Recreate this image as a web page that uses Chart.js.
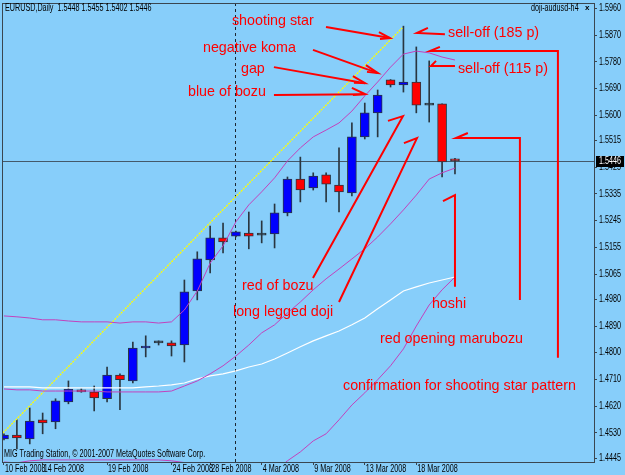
<!DOCTYPE html>
<html>
<head>
<meta charset="utf-8">
<script src="https://cdn.jsdelivr.net/npm/chart.js@4.4.1/dist/chart.umd.min.js"></script>
<style>
    html, body { margin: 0; padding: 0; background: #87cefa; }
</style>
</head>
<body>
<canvas id="chart" width="625" height="475"></canvas>
<script>
// EURUSD daily candles (one per trading session, index 0..35)
const opens  = [1.4510, 1.4523, 1.4510, 1.4574, 1.4567, 1.4634, 1.4675, 1.4668, 1.4645, 1.4725, 1.4705, 1.4816,
                1.4833, 1.4833, 1.4826, 1.5008, 1.5113, 1.5187, 1.5193, 1.5203, 1.5196, 1.5200, 1.5271, 1.5385,
                1.5355, 1.5399, 1.5365, 1.5338, 1.5527, 1.5608, 1.5719, 1.5702, 1.5712, 1.5634, 1.5638, 1.5448];
const highs  = [1.4527, 1.4574, 1.4614, 1.4597, 1.4645, 1.4705, 1.4679, 1.4688, 1.4752, 1.4729, 1.4836, 1.4857,
                1.4840, 1.4840, 1.5045, 1.5140, 1.5227, 1.5237, 1.5210, 1.5274, 1.5244, 1.5301, 1.5392, 1.5459,
                1.5406, 1.5406, 1.5490, 1.5574, 1.5641, 1.5685, 1.5720, 1.5900, 1.5830, 1.5783, 1.5638, 1.5455];
const lows   = [1.4506, 1.4476, 1.4493, 1.4527, 1.4544, 1.4628, 1.4667, 1.4604, 1.4634, 1.4608, 1.4698, 1.4786,
                1.4826, 1.4789, 1.4769, 1.4978, 1.5069, 1.5136, 1.5190, 1.5150, 1.5170, 1.5153, 1.5261, 1.5308,
                1.5348, 1.5308, 1.5274, 1.5328, 1.5520, 1.5527, 1.5695, 1.5678, 1.5608, 1.5577, 1.5392, 1.5402];
const closes = [1.4523, 1.4513, 1.4570, 1.4564, 1.4638, 1.4678, 1.4668, 1.4648, 1.4725, 1.4709, 1.4816, 1.4820,
                1.4833, 1.4823, 1.5005, 1.5116, 1.5187, 1.5173, 1.5207, 1.5193, 1.5196, 1.5271, 1.5385, 1.5348,
                1.5395, 1.5368, 1.5342, 1.5527, 1.5608, 1.5668, 1.5702, 1.5712, 1.5634, 1.5634, 1.5443, 1.5446];

// indicators
const upperBand  = [1.4924, 1.4921, 1.4917, 1.4911, 1.4911, 1.4907, 1.4904, 1.4904, 1.4904, 1.4900, 1.4904, 1.4904,
                    1.4900, 1.4904, 1.4944, 1.5008, 1.5102, 1.5160, 1.5241, 1.5298, 1.5342, 1.5389, 1.5446, 1.5490,
                    1.5527, 1.5550, 1.5574, 1.5614, 1.5665, 1.5712, 1.5762, 1.5806, 1.5816, 1.5810, 1.5796, 1.5786];
const middleBand = [1.4678, 1.4675, 1.4675, 1.4671, 1.4671, 1.4671, 1.4671, 1.4671, 1.4668, 1.4668, 1.4668, 1.4668,
                    1.4668, 1.4671, 1.4688, 1.4705, 1.4729, 1.4756, 1.4789, 1.4826, 1.4867, 1.4894, 1.4934, 1.4971,
                    1.5012, 1.5049, 1.5082, 1.5116, 1.5150, 1.5190, 1.5234, 1.5281, 1.5331, 1.5385, 1.5406, 1.5422];
const lowerBand  = [1.4432, 1.4429, 1.4436, 1.4439, 1.4439, 1.4439, 1.4439, 1.4439, 1.4439, 1.4439, 1.4439, 1.4439,
                    1.4439, 1.4436, 1.4430, 1.4405, 1.4360, 1.4352, 1.4340, 1.4355, 1.4390, 1.4400, 1.4436, 1.4466,
                    1.4503, 1.4527, 1.4574, 1.4624, 1.4665, 1.4709, 1.4756, 1.4813, 1.4890, 1.4961, 1.5012, 1.5055];
const slowMA     = [1.4685, 1.4685, 1.4685, 1.4682, 1.4682, 1.4682, 1.4682, 1.4682, 1.4682, 1.4682, 1.4682, 1.4685,
                    1.4688, 1.4692, 1.4698, 1.4712, 1.4722, 1.4729, 1.4739, 1.4752, 1.4762, 1.4779, 1.4799, 1.4820,
                    1.4840, 1.4857, 1.4873, 1.4894, 1.4917, 1.4948, 1.4978, 1.5008, 1.5022, 1.5035, 1.5045, 1.5055];

// yellow trendline
const trendX = [-0.08, 30.9];
const trendY = [1.4530, 1.5894];

// axes
const yTicks = [1.5960, 1.5870, 1.5780, 1.5690, 1.5600, 1.5515, 1.5425, 1.5335, 1.5245, 1.5155, 1.5065,
                1.4980, 1.4890, 1.4800, 1.4710, 1.4620, 1.4530, 1.4445];
const dateTickIdx  = [0, 3, 8, 13, 16, 20, 24, 28, 32];
const dateTickText = ['10 Feb 2008', '14 Feb 2008', '19 Feb 2008', '24 Feb 2008', '28 Feb 2008',
                      '4 Mar 2008', '9 Mar 2008', '13 Mar 2008', '18 Mar 2008'];
const lastPrice = 1.5446;
const separatorIdx = 17.95;

// text notes (candle index, price)
const noteText  = ['shooting star', 'negative koma', 'gap', 'blue of bozu', 'sell-off (185 p)', 'sell-off (115 p)',
                   'red of bozu', 'long legged doji', 'hoshi', 'red opening marubozu',
                   'confirmation for shooting star pattern'];
const noteIdx   = [17.69, 15.44, 18.39, 14.28, 34.46, 35.23, 18.47, 17.77, 33.21, 29.18, 26.31];
const notePrice = [1.5917, 1.5826, 1.5756, 1.5678, 1.5877, 1.5756, 1.5025, 1.4937, 1.4964, 1.4847, 1.4688];

// red arrows drawn on the chart (candle index, price)
const arrowPaths = [
    [[24.99, 1.5897], [29.96, 1.5860]], [[29.10, 1.5880], [29.96, 1.5860], [29.18, 1.5857]],
    [[23.98, 1.5820], [29.02, 1.5742]], [[28.09, 1.5769], [29.02, 1.5742], [28.17, 1.5746]],
    [[20.95, 1.5762], [28.02, 1.5708]], [[27.08, 1.5732], [28.02, 1.5708], [27.16, 1.5709]],
    [[20.95, 1.5668], [28.02, 1.5671]], [[27.00, 1.5692], [28.02, 1.5671], [27.08, 1.5668]],
    [[34.22, 1.5873], [32.05, 1.5877], [32.90, 1.5894]],
    [[35.00, 1.5766], [33.14, 1.5766], [33.53, 1.5783]],
    [[33.83, 1.5830], [33.06, 1.5816], [42.99, 1.5816], [42.99, 1.4783]],
    [[36.00, 1.5540], [35.08, 1.5523], [40.04, 1.5523], [40.04, 1.4978]],
    [[34.07, 1.5311], [35.00, 1.5331], [35.00, 1.5022]],
    [[23.98, 1.5052], [30.96, 1.5597], [29.80, 1.5581]],
    [[26.00, 1.4971], [32.05, 1.5523], [31.04, 1.5506]]
];

const SMALL_FONT = '"Liberation Sans", Arial, sans-serif';
const NOTE_FONT = '14.3px "Liberation Sans", Arial, sans-serif';
const EDGE = '#2a3640';

const idx = opens.map((_, i) => i);
const bodyColors = idx.map(i => closes[i] > opens[i] ? '#0000ff' : (closes[i] < opens[i] ? '#ff0000' : EDGE));

function lineSet(values, color, width) {
    return {
        type: 'line',
        data: values.map((v, i) => ({ x: i, y: v })),
        borderColor: color,
        borderWidth: width,
        pointRadius: 0,
        tension: 0,
        order: 0
    };
}

// terminal-style narrow text (the MT4 font is narrower than Arial)
function smallText(ctx, text, x, y, color) {
    ctx.save();
    ctx.translate(x, y);
    ctx.scale(0.72, 1);
    ctx.font = '10px ' + SMALL_FONT;
    ctx.fillStyle = color || '#000';
    ctx.textBaseline = 'middle';
    ctx.fillText(text, 0, 0);
    ctx.restore();
}

const overlay = {
    id: 'overlay',
    beforeDraw(chart) {
        const ctx = chart.ctx;
        ctx.save();
        ctx.fillStyle = '#87cefa';
        ctx.fillRect(0, 0, chart.width, chart.height);
        ctx.restore();
    },
    beforeDatasetsDraw(chart) {
        const { ctx, chartArea: a, scales: { x, y } } = chart;
        ctx.save();
        ctx.lineWidth = 1;
        ctx.strokeStyle = '#1c2630';
        ctx.setLineDash([3, 3]);
        const sx = Math.round(x.getPixelForValue(separatorIdx)) + 0.5;
        ctx.beginPath(); ctx.moveTo(sx, a.top); ctx.lineTo(sx, a.bottom); ctx.stroke();
        ctx.setLineDash([]);
        ctx.strokeStyle = '#44596a';
        const py = Math.round(y.getPixelForValue(lastPrice)) + 0.5;
        ctx.beginPath(); ctx.moveTo(a.left, py); ctx.lineTo(a.right, py); ctx.stroke();
        ctx.restore();
    },
    afterDatasetsDraw(chart) {
        const { ctx, scales: { x, y } } = chart;
        ctx.save();
        ctx.strokeStyle = '#ff0000';
        ctx.lineWidth = 2;
        arrowPaths.forEach(path => {
            ctx.beginPath();
            path.forEach(([i, p], k) => {
                const px = x.getPixelForValue(i), py = y.getPixelForValue(p);
                if (k) ctx.lineTo(px, py); else ctx.moveTo(px, py);
            });
            ctx.stroke();
        });
        ctx.fillStyle = '#ff0000';
        ctx.font = NOTE_FONT;
        ctx.textBaseline = 'middle';
        noteText.forEach((t, k) => {
            ctx.fillText(t, x.getPixelForValue(noteIdx[k]), y.getPixelForValue(notePrice[k]));
        });
        ctx.restore();
    },
    afterDraw(chart) {
        const { ctx, chartArea: a, scales: { x, y } } = chart;
        ctx.save();
        // frame
        ctx.strokeStyle = '#3a4650';
        ctx.lineWidth = 1;
        ctx.strokeRect(Math.round(a.left) + 0.5, Math.round(a.top) + 0.5,
            Math.round(a.right - a.left), Math.round(a.bottom - a.top));
        ctx.restore();

        // axis labels at the scale ticks
        x.ticks.forEach((t, k) => smallText(ctx, dateTickText[k], x.getPixelForValue(t.value) + 1, a.bottom + 7.5));
        y.ticks.forEach(t => smallText(ctx, t.value.toFixed(4), a.right + 5, y.getPixelForValue(t.value)));

        // window texts
        smallText(ctx, 'EURUSD,Daily  ' + [opens[35], highs[35], lows[35], closes[35]].map(v => v.toFixed(4)).join(' '),
            a.left + 3, a.top + 5);
        smallText(ctx, 'doji-audusd-h4', a.right - 63, a.top + 5);
        ctx.save();
        ctx.font = 'bold 8px ' + SMALL_FONT;
        ctx.textBaseline = 'middle';
        ctx.fillStyle = '#000';
        ctx.fillText('x', a.right - 9, a.top + 5);
        ctx.restore();
        smallText(ctx, 'MIG Trading Station, \u00a9 2001-2007 MetaQuotes Software Corp.', a.left + 2, a.bottom - 8);

        // last price box
        const py = Math.round(y.getPixelForValue(lastPrice));
        ctx.save();
        ctx.fillStyle = '#000';
        ctx.fillRect(a.right + 2, py - 5, 28, 11);
        ctx.restore();
        smallText(ctx, lastPrice.toFixed(4), a.right + 5, py + 0.5, '#fff');
    }
};

new Chart(document.getElementById('chart'), {
    type: 'bar',
    data: {
        datasets: [
            lineSet(upperBand, '#c242bd', 1),
            lineSet(middleBand, '#c242bd', 1),
            lineSet(lowerBand, '#c242bd', 1),
            lineSet(slowMA, '#ffffff', 1.2),
            {
                type: 'line',
                data: trendX.map((v, i) => ({ x: v, y: trendY[i] })),
                borderColor: '#ffff00',
                borderWidth: 1.3,
                borderDash: [2, 1],
                pointRadius: 0,
                order: 0
            },
            {
                data: idx.map(i => ({ x: i, y: [opens[i], closes[i]] })),
                backgroundColor: bodyColors,
                borderColor: EDGE,
                borderWidth: 1,
                borderSkipped: false,
                barThickness: 9,
                minBarLength: 2,
                grouped: false,
                order: 1
            },
            {
                data: idx.map(i => ({ x: i, y: [lows[i], highs[i]] })),
                backgroundColor: EDGE,
                borderWidth: 0,
                barThickness: 1,
                grouped: false,
                order: 2
            }
        ]
    },
    options: {
        responsive: false,
        animation: false,
        layout: { padding: { left: 2, top: 3, right: 0, bottom: 0 } },
        plugins: { legend: { display: false }, tooltip: { enabled: false } },
        scales: {
            x: {
                type: 'linear',
                position: 'bottom',
                min: -0.155,
                max: 45.79,
                offset: false,
                border: { display: false },
                grid: { drawOnChartArea: false, drawTicks: true, tickLength: 3, color: '#3a4650', offset: false },
                ticks: { display: false, autoSkip: false },
                afterBuildTicks: s => { s.ticks = dateTickIdx.map(v => ({ value: v })); },
                afterFit: s => { s.height = 13; s.paddingLeft = 0; s.paddingRight = 0; }
            },
            y: {
                position: 'right',
                min: 1.4432,
                max: 1.5978,
                beginAtZero: false,
                border: { display: false },
                grid: { drawOnChartArea: false, drawTicks: true, tickLength: 3, color: '#3a4650' },
                ticks: { display: false, autoSkip: false },
                afterBuildTicks: s => { s.ticks = yTicks.map(v => ({ value: v })); },
                afterFit: s => { s.width = 31; s.paddingTop = 0; s.paddingBottom = 0; }
            }
        }
    },
    plugins: [overlay]
});
</script>
</body>
</html>
